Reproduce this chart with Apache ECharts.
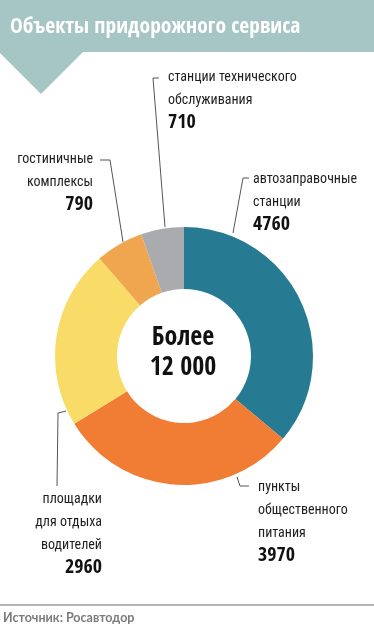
<!DOCTYPE html>
<html>
<head>
<meta charset="utf-8">
<script src="https://cdn.jsdelivr.net/npm/echarts@6/dist/echarts.min.js"></script>
<style>
html,body{margin:0;padding:0;background:#fff;}
#chart{width:374px;height:640px;}
</style>
</head>
<body>
<div id="chart"></div>
<script>
var titleText = 'Объекты придорожного сервиса';
var sourceText = 'Источник: Росавтодор';
var centerLines = ['Более', '12 000'];
var categories = [
  ['автозаправочные', 'станции'],
  ['пункты', 'общественного', 'питания'],
  ['площадки', 'для отдыха', 'водителей'],
  ['гостиничные', 'комплексы'],
  ['станции технического', 'обслуживания']
];
var values = [4760, 3970, 2960, 790, 710];
var colors = ['#267b93', '#f07d33', '#f9dc67', '#efa64e', '#aaabaf'];

var FONT = "'Roboto Condensed', 'DejaVu Sans Condensed', sans-serif";
var BOLD = "'Open Sans Condensed', 'Roboto Condensed', sans-serif";

// label placement (top-left anchor / align) and leader lines, per slice
var labelPos = [
  {x: 253, y: 168, align: 'left',  line: [[233,233],[243,178],[249,178]]},
  {x: 258, y: 476, align: 'left',  line: [[237,477],[240,486],[249,486]]},
  {x: 102, y: 488, align: 'right', line: [[66,411],[58,413],[57,486]]},
  {x: 93,  y: 148, align: 'right', line: [[123,242],[110,160],[100,160]]},
  {x: 168, y: 66,  align: 'left',  line: [[165,227],[153,78],[159,78]]}
];

var data = values.map(function(v, i){
  return {
    value: v,
    name: categories[i].join(' '),
    itemStyle: {color: colors[i]},
    label: {
      formatter: categories[i].map(function(s){return '{n|' + s + '}';}).join('\n') + '\n{v|' + v + '}',
      align: labelPos[i].align
    }
  };
});

var chart = echarts.init(document.getElementById('chart'), null, {renderer: 'canvas'});
chart.setOption({
  animation: false,
  graphic: [
    {type: 'polygon', z: -1, shape: {points: [[0,0],[374,0],[374,52],[83,52],[41,94],[0,53]]}, style: {fill: '#a6c6c5'}},
    {type: 'text', x: 10, y: 27, style: {text: titleText, fill: '#ffffff', font: "bold 21.5px " + BOLD, verticalAlign: 'middle'}},
    {type: 'line', shape: {x1: 0, y1: 605, x2: 374, y2: 605}, style: {stroke: '#9d9d9d', lineWidth: 1.5}},
    {type: 'text', x: 3, y: 618, style: {text: sourceText, fill: '#7b7b7b', font: "bold 12.5px 'Lato', sans-serif", verticalAlign: 'middle'}},
    {type: 'text', x: 183, y: 338, z: 10, style: {text: centerLines[0], fill: '#111', font: "bold 26px " + BOLD, align: 'center', verticalAlign: 'middle'}},
    {type: 'text', x: 183, y: 368, z: 10, style: {text: centerLines[1], fill: '#111', font: "bold 26px " + BOLD, align: 'center', verticalAlign: 'middle'}}
  ],
  series: [{
    type: 'pie',
    center: [184, 356],
    radius: [67, 129],
    startAngle: 90,
    clockwise: true,
    avoidLabelOverlap: false,
    silent: true,
    data: data,
    label: {
      show: true,
      position: 'outside',
      color: '#111',
      fontFamily: FONT,
      rich: {
        n: {fontSize: 14, lineHeight: 23, color: '#1e1e1e', fontFamily: FONT},
        v: {fontSize: 20, lineHeight: 22, fontWeight: 'bold', color: '#111', fontFamily: BOLD}
      }
    },
    labelLine: {show: true, lineStyle: {color: '#555', width: 1}},
    labelLayout: function(p){
      var lp = labelPos[p.dataIndex];
      return {
        x: lp.x, y: lp.y,
        align: lp.align,
        verticalAlign: 'top',
        labelLinePoints: lp.line
      };
    }
  }]
});
</script>
</body>
</html>
